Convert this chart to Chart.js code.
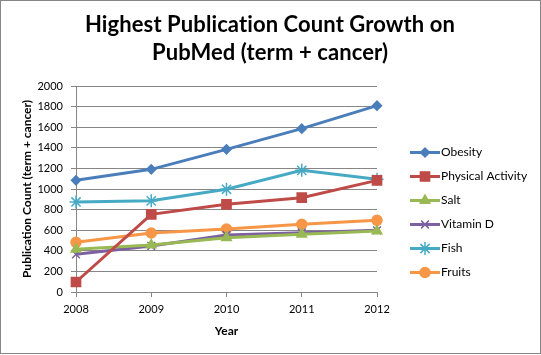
<!DOCTYPE html>
<html>
<head>
<meta charset="utf-8">
<script src="https://cdn.jsdelivr.net/npm/chart.js@4.4.1/dist/chart.umd.min.js"></script>
<style>
  html, body { margin: 0; padding: 0; background: #fff; }
  #wrap { position: relative; width: 541px; height: 355px; }
</style>
</head>
<body>
<div id="wrap"><canvas id="c" width="541" height="355"></canvas></div>
<script>
const titleLines = ['Highest Publication Count Growth on', 'PubMed (term + cancer)'];
const xTitle = 'Year';
const yTitle = 'Publication Count (term + cancer)';
const years = ['2008', '2009', '2010', '2011', '2012'];
const seriesNames = ['Obesity', 'Physical Activity', 'Salt', 'Vitamin D', 'Fish', 'Fruits'];
const obesity = [1084, 1191, 1385, 1586, 1809];
const physicalActivity = [97, 754, 851, 916, 1084];
const salt = [414, 456, 527, 560, 592];
const vitaminD = [366, 447, 553, 576, 599];
const fish = [874, 885, 997, 1181, 1094];
const fruits = [482, 573, 612, 657, 696];
const yMin = 0, yMax = 2000, yStep = 200;

const seriesValues = [obesity, physicalActivity, salt, vitaminD, fish, fruits];
const colors = ['#4A7EBB', '#BE4B48', '#98B954', '#7D60A0', '#46AAC5', '#F79646'];
const markers = ['rectRot', 'rect', 'triangle', 'crossRot', 'star', 'circle'];
const radii = [4.5, 6.5, 5.5, 5.5, 6.5, 5];

const FONT = 'Lato, "Open Sans", sans-serif';

const datasets = seriesNames.map((name, i) => ({
  label: name,
  data: seriesValues[i],
  borderColor: colors[i],
  backgroundColor: colors[i],
  pointBackgroundColor: colors[i],
  pointBorderColor: colors[i],
  pointStyle: markers[i],
  pointRadius: radii[i],
  pointHoverRadius: radii[i],
  pointBorderWidth: 1.5,
  borderWidth: 3,
  tension: 0
}));

const decor = {
  id: 'decor',
  afterDraw(chart) {
    const ctx = chart.ctx;
    const ca = chart.chartArea;
    ctx.save();
    // outer border
    ctx.strokeStyle = '#868686';
    ctx.lineWidth = 1;
    ctx.strokeRect(0.5, 0.5, 540, 353);
    // title
    ctx.fillStyle = '#000';
    ctx.textAlign = 'center';
    ctx.textBaseline = 'middle';
    ctx.font = 'bold 22px ' + FONT;
    if ('letterSpacing' in ctx) ctx.letterSpacing = '0.1px';
    ctx.fillText(titleLines[0], 270, 25);
    ctx.fillText(titleLines[1], 270, 53);
    if ('letterSpacing' in ctx) ctx.letterSpacing = '0px';
    // axis titles
    ctx.font = 'bold 12px ' + FONT;
    ctx.fillText(xTitle, (ca.left + ca.right) / 2, 331);
    ctx.save();
    ctx.translate(27, (ca.top + ca.bottom) / 2);
    ctx.rotate(-Math.PI / 2);
    ctx.fillText(yTitle, 0, 0);
    ctx.restore();
    // legend
    ctx.font = '12px ' + FONT;
    ctx.textAlign = 'left';
    chart.data.datasets.forEach((ds, i) => {
      const y = 152.5 + i * 24;
      ctx.strokeStyle = ds.borderColor;
      ctx.lineWidth = 3;
      ctx.beginPath();
      ctx.moveTo(410, y);
      ctx.lineTo(440, y);
      ctx.stroke();
      ctx.fillStyle = ds.pointBackgroundColor;
      ctx.strokeStyle = ds.pointBorderColor;
      ctx.lineWidth = 1.5;
      Chart.helpers.drawPoint(ctx, { pointStyle: ds.pointStyle, radius: ds.pointRadius, borderWidth: 1.5, rotation: 0 }, 425, y);
      ctx.fillStyle = '#000';
      ctx.fillText(ds.label, 441, y);
    });
    ctx.restore();
  }
};

new Chart(document.getElementById('c'), {
  type: 'line',
  data: { labels: years, datasets },
  options: {
    responsive: false,
    animation: false,
    events: [],
    layout: { padding: { left: 0, top: 86, right: 164, bottom: 0 } },
    plugins: { legend: { display: false }, title: { display: false }, tooltip: { enabled: false } },
    scales: {
      x: {
        type: 'category',
        offset: false,
        grid: { drawOnChartArea: false, drawTicks: true, tickLength: 5, color: '#868686' },
        border: { color: '#868686', width: 1 },
        ticks: { color: '#000', font: { family: FONT, size: 11 }, padding: 6, maxRotation: 0 },
        afterFit(s) { s.height = 63; }
      },
      y: {
        min: yMin, max: yMax,
        grid: { color: '#868686', tickLength: 5, drawTicks: true },
        border: { color: '#868686', width: 1 },
        ticks: { stepSize: yStep, color: '#000', font: { family: FONT, size: 11 }, padding: 8,
                 callback: (v) => String(v) },
        afterFit(s) { s.width = 76; }
      }
    }
  },
  plugins: [decor]
});
</script>
</body>
</html>
